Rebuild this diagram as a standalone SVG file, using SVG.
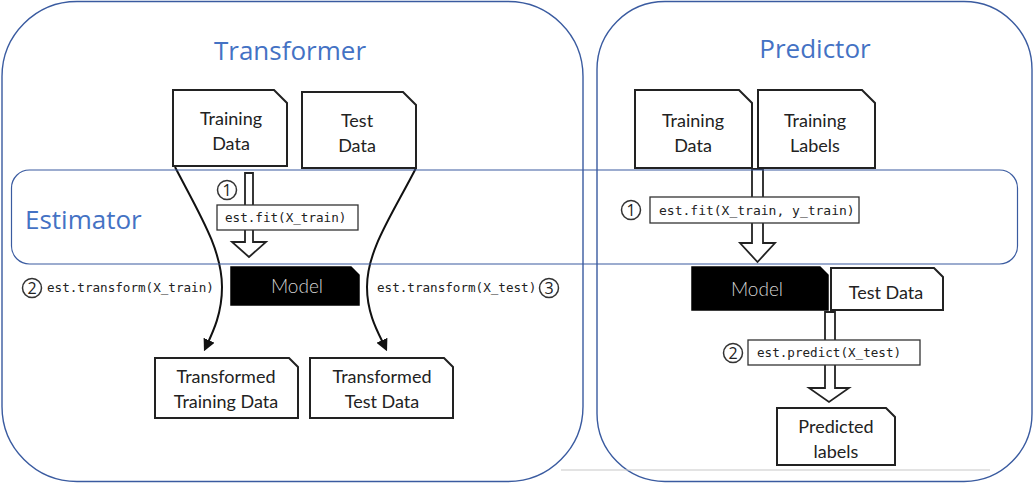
<svg xmlns="http://www.w3.org/2000/svg" width="1034" height="483" viewBox="0 0 1034 483">
<defs>
<style>
.panel{fill:none;stroke:#3A5BA0;stroke-width:1.4}
.title{font-family:"Open Sans","Liberation Sans",sans-serif;font-size:26px;fill:#4472C4}
.doc{fill:#fff;stroke:#222;stroke-width:2}
.model{fill:#000;stroke:#000;stroke-width:1.5}
.lbl{font-family:Lato,"Open Sans",sans-serif;font-size:18px;fill:#222;text-anchor:middle}
.mlbl{font-family:Lato,"Open Sans",sans-serif;font-weight:300;font-size:19px;fill:#d4d4d4;text-anchor:middle}
.code{font-family:"DejaVu Sans Mono","Liberation Mono",monospace;font-size:12.6px;fill:#222}
.cbox{fill:#fff;stroke:#333;stroke-width:1.3}
.num{fill:#fff;stroke:#333;stroke-width:1.5}
.numt{font-family:"Open Sans","Liberation Sans",sans-serif;font-size:16px;fill:#222;text-anchor:middle}
.hollow{fill:#fff;stroke:#222;stroke-width:1.8;stroke-linejoin:miter}
.curve{fill:none;stroke:#111;stroke-width:2}
</style>
<marker id="ah" viewBox="0 0 10 10" refX="8" refY="5" markerWidth="6" markerHeight="6" orient="auto" markerUnits="strokeWidth">
<path d="M0,0 L10,5 L0,10 Z" fill="#111"/>
</marker>
</defs>
<rect width="1034" height="483" fill="#fff"/>

<g id="transformer-panel">
<rect class="panel" x="2" y="1.5" width="581" height="480" rx="75" ry="75"/>
<text class="title" x="290" y="60" text-anchor="middle">Transformer</text>
</g>
<g id="predictor-panel">
<rect class="panel" x="597" y="1.5" width="435" height="480" rx="68" ry="68"/>
<text class="title" x="815" y="58" text-anchor="middle">Predictor</text>
<line x1="561" y1="470" x2="990" y2="470" stroke="#c8c8c8" stroke-width="1.2"/>
</g>

<g id="connectors">
<path class="curve" d="M175,167 C200,215 222,250 222,287 C222,315 212,334 205,349" marker-end="url(#ah)"/>
<path class="curve" d="M416,168 C392,215 367,250 367,287 C367,315 379,334 386,349" marker-end="url(#ah)"/>
<path class="hollow" d="M245,173 V242 H232 L249,257 L266,242 H253 V173 Z"/>
<path class="hollow" d="M752,169 V243 H740 L757.5,262 L775,243 H763 V169 Z"/>
<path class="hollow" d="M825,312 V388 H809 L829,402 L849,388 H835 V312 Z"/>
</g>

<g id="estimator">
<rect x="11.5" y="170" width="1006" height="94" rx="18" ry="18" fill="none" stroke="#3A5BA0" stroke-width="1.2"/>
<text class="title" x="25" y="229">Estimator</text>
</g>

<g id="t-training-data">
<path class="doc" d="M173,90 H274 L287,103 V166 H173 Z"/>
<text class="lbl" x="231" y="125">Training</text>
<text class="lbl" x="231" y="150">Data</text>
</g>
<g id="t-test-data">
<path class="doc" d="M302,92 H403 L416,105 V168 H302 Z"/>
<text class="lbl" x="357" y="127">Test</text>
<text class="lbl" x="357" y="152">Data</text>
</g>
<g id="t-fit">
<circle class="num" cx="227" cy="190" r="9.5"/>
<text class="numt" x="227" y="196">1</text>
<rect class="cbox" x="217" y="205" width="141" height="25"/>
<text class="code" x="225" y="222">est.fit(X_train)</text>
</g>
<g id="t-model">
<path class="model" d="M231,267 H351 L359,275 V305 H231 Z"/>
<text class="mlbl" x="297" y="293">Model</text>
</g>
<g id="t-transform-train">
<circle class="num" cx="32" cy="288" r="9.5"/>
<text class="numt" x="32" y="294">2</text>
<text class="code" x="47" y="292">est.transform(X_train)</text>
</g>
<g id="t-transform-test">
<text class="code" x="377" y="292">est.transform(X_test)</text>
<circle class="num" cx="549" cy="288" r="9.5"/>
<text class="numt" x="549" y="294">3</text>
</g>
<g id="t-transformed-training">
<path class="doc" d="M155,358 H289 L298,367 V418 H155 Z"/>
<text class="lbl" x="226" y="383">Transformed</text>
<text class="lbl" x="226" y="408">Training Data</text>
</g>
<g id="t-transformed-test">
<path class="doc" d="M310,358 H444 L453,367 V418 H310 Z"/>
<text class="lbl" x="382" y="383">Transformed</text>
<text class="lbl" x="382" y="408">Test Data</text>
</g>

<g id="p-training-data">
<path class="doc" d="M635,90 H739 L752,103 V168 H635 Z"/>
<text class="lbl" x="693" y="127">Training</text>
<text class="lbl" x="693" y="152">Data</text>
</g>
<g id="p-training-labels">
<path class="doc" d="M758,90 H862 L875,103 V168 H758 Z"/>
<text class="lbl" x="815" y="127">Training</text>
<text class="lbl" x="815" y="152">Labels</text>
</g>
<g id="p-fit">
<circle class="num" cx="631" cy="210" r="9.5"/>
<text class="numt" x="631" y="216">1</text>
<rect class="cbox" x="650" y="197" width="209" height="26"/>
<text class="code" x="659" y="215" style="font-size:13px">est.fit(X_train, y_train)</text>
</g>
<g id="p-model">
<path class="model" d="M692,267 H820 L828,275 V310 H692 Z"/>
<text class="mlbl" x="757" y="296">Model</text>
</g>
<g id="p-test-data">
<path class="doc" d="M831,268 H934 L943,277 V310 H831 Z"/>
<text class="lbl" x="886" y="299">Test Data</text>
</g>
<g id="p-predict">
<circle class="num" cx="733" cy="353" r="9.5"/>
<text class="numt" x="733" y="359">2</text>
<rect class="cbox" x="748" y="340" width="172" height="25"/>
<text class="code" x="757" y="357">est.predict(X_test)</text>
</g>
<g id="p-predicted">
<path class="doc" d="M777,408 H886 L895,417 V465 H777 Z"/>
<text class="lbl" x="836" y="433">Predicted</text>
<text class="lbl" x="836" y="458">labels</text>
</g>
</svg>
